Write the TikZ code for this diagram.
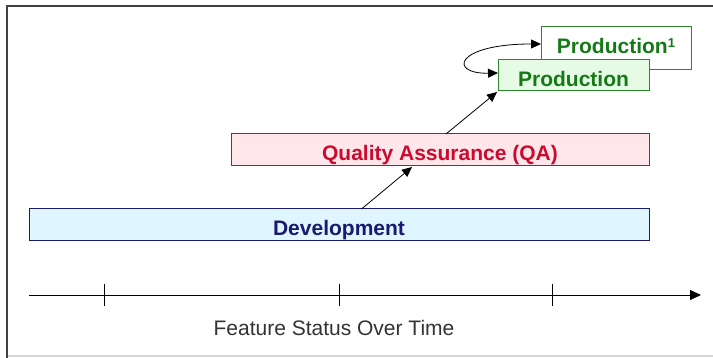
\documentclass[tikz,border=0pt]{standalone}
\usepackage{fontspec}
\setmainfont{Liberation Sans}
\usetikzlibrary{arrows.meta}

\definecolor{devfill}{HTML}{E0F6FF}
\definecolor{devline}{HTML}{1A1A70}
\definecolor{qafill}{HTML}{FFE6EA}
\definecolor{qaline}{HTML}{CC0A2E}
\definecolor{prodfill}{HTML}{E6FBE6}
\definecolor{prodline}{HTML}{2A8A2A}
\definecolor{prodtext}{HTML}{157A15}
\definecolor{framegray}{HTML}{404040}
\definecolor{edgegray}{HTML}{D4D4D4}
\definecolor{captiongray}{HTML}{333333}

\tikzset{
  stagebox/.style={draw, line width=1pt, inner sep=0pt,
    text height=24pt, text depth=2pt,
    font=\fontsize{21}{25}\selectfont\bfseries},
  flow/.style={line width=0.8pt, -{Triangle[length=10pt,width=9pt]}},
  tickmark/.style={line width=0.8pt},
}
\newcommand{\supone}{\raisebox{6pt}{\fontsize{13}{13}\selectfont\bfseries 1}}

\begin{document}
\begin{tikzpicture}[x=1pt,y=-1pt]
\useasboundingbox (0,0) rectangle (713,358);

% outer frame: dark top and left edges, faint bottom edge
\draw[framegray, line width=2pt] (7,358) -- (7,6) -- (713,6);
\draw[edgegray, line width=1.5pt] (8,356) -- (713,356);

% stages
\node[stagebox, fill=devfill, draw=devline, text=devline,
      minimum width=620pt, minimum height=32pt] (dev) at (339,225) {Development};
\node[stagebox, fill=qafill, draw=qaline, text=qaline,
      minimum width=418pt, minimum height=32pt] (qa) at (440,150) {Quality Assurance (QA)};
\node[stagebox, fill=white, draw=prodline, text=prodtext,
      minimum width=150pt, minimum height=43pt, text height=16pt, text depth=5.5pt]
      (prodb) at (616,48.5) {Production\supone};
\node[stagebox, fill=prodfill, draw=prodline, text=prodtext,
      minimum width=151pt, minimum height=31pt] (proda) at (573.5,75.5) {Production};

% promotion arrows
\coordinate (devout) at (361.5,209);
\coordinate (qain) at (412,167);
\coordinate (qaout) at (446,134);
\coordinate (prodin) at (497,92);
\draw[flow] (devout) -- (qain);
\draw[flow] (qaout) -- (prodin);

% swap between the two production environments
\coordinate (pbin) at (541,44);
\coordinate (pain) at (498,73);
\draw[line width=0.8pt, {Triangle[length=10pt,width=9pt]}-{Triangle[length=10pt,width=9pt]}]
  (pain) .. controls (448,74) and (455,44) .. (pbin);

% time axis
\coordinate (axstart) at (29,295);
\coordinate (axend) at (701,295);
\draw[line width=0.8pt, -{Triangle[length=11pt,width=10pt]}] (axstart) -- (axend);
\foreach \tx/\nm in {104/ta,339/tb,552/tc}{
  \coordinate (\nm top) at (\tx,284);
  \coordinate (\nm bot) at (\tx,306);
  \draw[tickmark] (\nm top) -- (\nm bot);
}
\node[text=captiongray, font=\fontsize{21}{25}\selectfont] (caption) at (334,328) {Feature Status Over Time};
\end{tikzpicture}
\end{document}
